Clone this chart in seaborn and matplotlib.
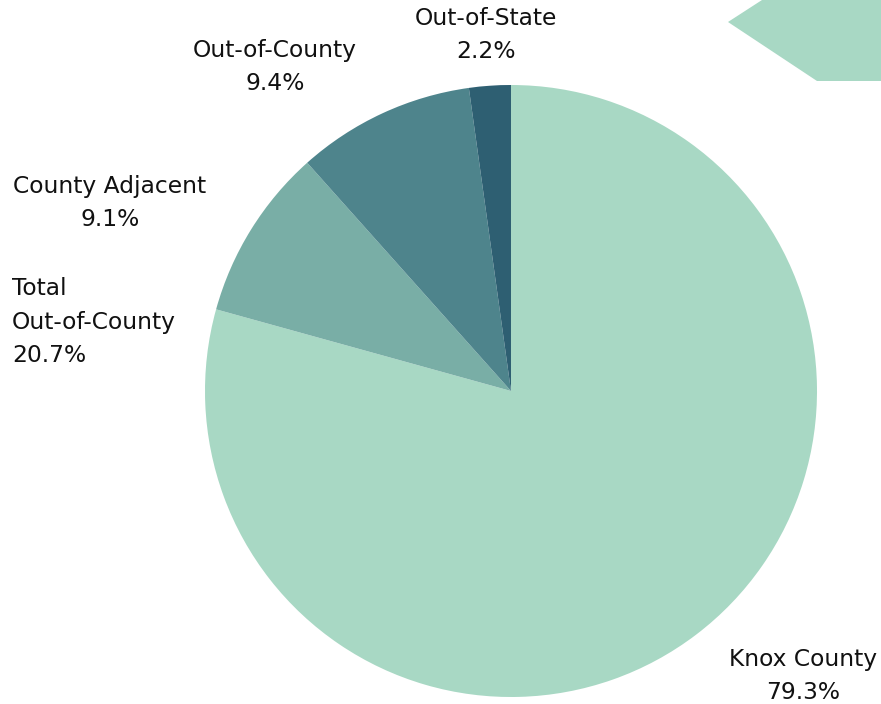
import matplotlib
matplotlib.use('Agg')
import matplotlib.pyplot as plt
import seaborn as sns
from matplotlib.patches import Polygon

sns.set_theme(style='white')
plt.rcParams['font.family'] = ['DejaVu Sans']

# Data
categories = ['Knox County', 'County Adjacent', 'Out-of-County', 'Out-of-State']
shares = [79.3, 9.1, 9.4, 2.2]
colors = ['#a8d8c4', '#79aea6', '#4e848c', '#2e5f72']
total_out_label = 'Total\nOut-of-County\n20.7%'

W, H = 881, 704
fig = plt.figure(figsize=(W / 100, H / 100), dpi=100)
ax = fig.add_axes([0, 0, 1, 1])

# pie, clockwise from top with Knox County first
ax.pie(shares, colors=colors, startangle=90, counterclock=False,
       center=(511, H - 391), radius=306, frame=True,
       wedgeprops={'linewidth': 0})
ax.set_xlim(0, W)
ax.set_ylim(0, H)
ax.set_aspect('equal')
ax.axis('off')

# decorative arrow at top right
ax.add_patch(Polygon([(762, H), (W, H), (W, H - 81), (817, H - 81), (728, H - 22)],
                     closed=True, facecolor='#a8d8c4', edgecolor='none'))

fs = 16.8
txt = dict(fontsize=fs, color='#111111', linespacing=1.6)
ax.text(486, H - 35, 'Out-of-State\n2.2%', ha='center', va='center', **txt)
ax.text(275, H - 67, 'Out-of-County\n9.4%', ha='center', va='center', **txt)
ax.text(110, H - 203, 'County Adjacent\n9.1%', ha='center', va='center', **txt)
ax.text(12, H - 322, total_out_label, ha='left', va='center', **txt)
ax.text(803, H - 676, 'Knox County\n79.3%', ha='center', va='center', **txt)

plt.savefig('out.png', dpi=100)
